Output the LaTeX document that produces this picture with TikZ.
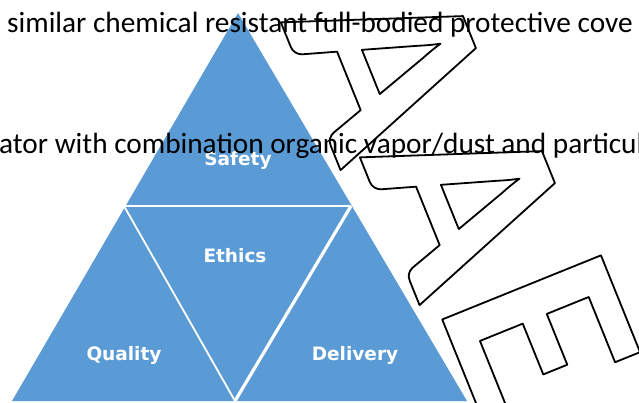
\documentclass[tikz,border=0pt]{standalone}
\usepackage{fontspec}
\setmainfont{Carlito}
\newfontfamily\lblfont{DejaVu Sans}
\usepackage{xcolor}
\definecolor{pyrblue}{HTML}{5B9BD5}
\newcommand\wmglyph[1]{\special{pdf:literal direct 1 Tr 1.8 w 1 j}#1\special{pdf:literal direct 0 Tr}}

\begin{document}
\begin{tikzpicture}[x=1pt,y=-1pt,
  seglabel/.style={text=white,inner sep=0pt,anchor=base,font=\lblfont\bfseries\fontsize{18.5}{22}\selectfont},
  bodyline/.style={inner sep=0pt,anchor=base west,font=\fontsize{29.3}{35}\selectfont},
  wmletter/.style={inner sep=0pt,rotate=-68,font=\bfseries\fontsize{264}{300}\selectfont},
  divider/.style={draw=white,line width=#1}]
\useasboundingbox (0,0) rectangle (639,403);
\clip (0,0) rectangle (639,403);
\coordinate (apex) at (238,13);
\coordinate (bl) at (12,401);
\coordinate (br) at (467,401);
\coordinate (ml) at (124,206);
\coordinate (mr) at (351,206);
\coordinate (bm) at (235,401);
\fill[pyrblue] (apex) -- (br) -- (bl) -- cycle;
\draw[divider=1.6pt] (ml) -- (mr);
\draw[divider=1.8pt] (ml) -- (bm);
\draw[divider=3.2pt] (mr) -- (bm);
\node[seglabel] (safety) at (238,166) {Safety};
\node[seglabel] (ethics) at (235,262) {Ethics};
\node[seglabel] (quality) at (124,360) {Quality};
\node[seglabel] (delivery) at (355,360) {Delivery};
\node[wmletter] (wmA1) at (390,64) {\wmglyph{A}};
\node[wmletter] (wmA2) at (469,199) {\wmglyph{A}};
\node[wmletter] (wmE) at (540,333) {\wmglyph{E}};
\node[bodyline] (lineone) at (7,33) {similar chemical resistant full-bodied protective cove};
\node[bodyline] (linetwo) at (-1,154) {ator with combination organic vapor/dust and particul};
\end{tikzpicture}
\end{document}
